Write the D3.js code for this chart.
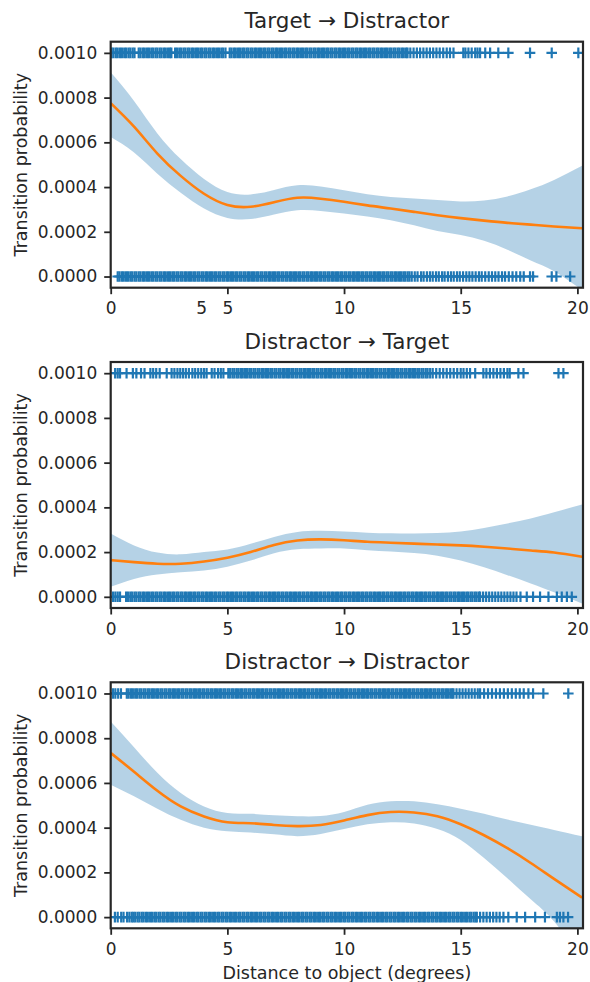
<!DOCTYPE html>
<html>
<head>
<meta charset="utf-8">
<script src="https://cdn.jsdelivr.net/npm/d3@7"></script>
<style>
body { margin: 0; background: #fff; }
text { font-family: 'DejaVu Sans', sans-serif; fill: #262626; }
</style>
</head>
<body>
<script>
// panel titles
const titles = ['Target \u2192 Distractor', 'Distractor \u2192 Target', 'Distractor \u2192 Distractor']

// x positions of the fitted curve / confidence band
const curveX = [0, 1, 2, 3, 4, 5, 6, 7, 8, 9, 10, 11, 12, 13, 14, 15, 16, 17, 18, 19, 20.2]

// Target -> Distractor
const mean1 = [0.000775, 0.00067, 0.00055, 0.00045, 0.00037, 0.00032, 0.000312, 0.000332, 0.000352, 0.000348, 0.000334, 0.000318, 0.000304, 0.000289, 0.000274, 0.000261, 0.00025, 0.00024, 0.000232, 0.000224, 0.000216]
const upper1 = [0.000913, 0.000785, 0.00064, 0.000525, 0.000436, 0.000378, 0.000367, 0.000387, 0.000408, 0.000403, 0.000386, 0.000368, 0.000356, 0.000349, 0.000342, 0.000336, 0.00034, 0.000358, 0.00039, 0.000432, 0.000495]
const lower1 = [0.000624, 0.000555, 0.00046, 0.000375, 0.000304, 0.000262, 0.000257, 0.000277, 0.000296, 0.000293, 0.000282, 0.000268, 0.000252, 0.000229, 0.000204, 0.000186, 0.00016, 0.00012, 0.000072, 0.000024, -0.00006]
const top1 = [0.04,0.12,0.22,0.3,0.4,0.48,0.58,0.66,0.76,0.84,0.94,1.02,
  1.2,1.28,1.38,1.46,1.56,1.64,1.74,1.82,1.92,2.0,2.1,2.18,2.28,2.36,2.46,2.54,2.6,
  2.76,2.84,2.94,3.02,3.12,3.2,3.3,3.38,3.48,3.56,3.66,3.74,3.84,3.92,4.02,4.1,4.2,4.28,4.38,4.46,4.56,4.64,4.74,4.82,4.92,
  5.1,5.18,5.28,5.36,5.46,5.54,5.64,5.72,5.82,5.9,6.0,6.08,6.18,6.26,6.36,6.44,6.54,6.62,6.72,6.8,6.9,6.98,7.08,7.16,7.26,7.34,7.44,7.52,7.62,7.7,7.8,7.88,7.98,8.06,8.16,8.24,8.34,8.42,8.52,8.6,8.7,8.78,8.88,8.96,9.06,9.14,9.24,9.32,9.42,9.5,9.6,9.68,9.78,9.86,9.96,10.04,10.14,10.22,10.32,10.4,10.5,10.58,10.68,10.76,10.86,10.94,11.04,11.12,11.22,11.3,11.4,11.48,11.58,11.66,11.76,11.84,11.94,12.02,12.12,12.2,12.3,12.38,12.48,12.56,12.66,12.72,
  12.84,12.98,13.12,13.26,13.4,13.54,13.68,13.82,13.96,14.1,14.25,14.4,14.54,14.69,15.11,15.2,15.33,15.47,15.62,15.72,15.83,16.05,16.26,16.61,17.04,17.97,18.9,20.04]
const bot1 = [0.3,0.38,0.48,0.56,0.66,0.74,0.84,0.92,1.02,1.1,1.2,1.28,1.38,1.46,1.56,1.64,1.74,1.82,1.92,2.0,2.1,2.18,2.28,2.36,2.46,2.54,2.64,2.72,2.82,2.9,3.0,3.08,3.18,3.26,3.36,3.44,3.54,3.62,3.72,3.8,3.9,3.98,4.08,4.16,4.26,4.34,4.44,4.52,4.62,4.7,4.8,4.88,4.98,5.06,5.16,5.24,5.34,5.42,5.52,5.6,5.7,5.78,5.88,5.96,6.06,6.14,6.24,6.32,6.42,6.5,6.6,6.68,6.78,6.86,6.96,7.04,7.14,7.22,7.32,7.4,7.5,7.58,7.68,7.76,7.86,7.94,8.04,8.12,8.22,8.3,8.4,8.48,8.58,8.66,8.76,8.84,8.94,9.02,9.12,9.2,9.3,9.38,9.48,9.56,9.66,9.74,9.84,9.92,10.02,10.1,10.2,10.28,10.38,10.46,10.56,10.64,10.74,10.82,10.92,11.0,11.1,11.18,11.28,11.36,11.46,11.54,11.64,11.72,11.82,11.9,12.0,12.08,12.18,12.26,12.36,12.44,12.54,12.62,12.72,12.8,
  12.9,13.03,13.15,13.3,13.41,13.55,13.68,13.8,13.94,14.06,14.2,14.31,14.45,14.58,14.7,14.84,14.96,15.1,15.24,15.37,15.5,15.64,15.78,15.9,16.05,16.2,16.34,16.48,16.62,16.77,16.9,17.06,17.22,17.38,17.55,17.7,17.97,18.1,18.9,19.1,19.69]

// Distractor -> Target
const mean2 = [0.000164, 0.000155, 0.000148, 0.000148, 0.000158, 0.000175, 0.0002, 0.000232, 0.000252, 0.000257, 0.000253, 0.000246, 0.000242, 0.000238, 0.000234, 0.00023, 0.000224, 0.000216, 0.000207, 0.000198, 0.000179]
const upper2 = [0.000283, 0.00023, 0.000198, 0.00019, 0.0002, 0.000212, 0.000237, 0.000268, 0.00029, 0.000295, 0.000292, 0.000287, 0.000284, 0.000283, 0.000285, 0.000292, 0.000308, 0.000328, 0.00035, 0.000378, 0.000413]
const lower2 = [0.000045, 0.00008, 0.0001, 0.00011, 0.000118, 0.000135, 0.000162, 0.000195, 0.000213, 0.000216, 0.000216, 0.000208, 0.000203, 0.000196, 0.000184, 0.000162, 0.000132, 0.000097, 0.00006, 0.00002, -0.00003]
const top2 = [0.19,0.3,0.4,0.68,0.95,1.1,1.3,1.45,1.7,1.82,1.95,2.1,2.4,
  2.61,2.73,2.86,2.98,3.1,3.22,3.35,3.5,3.62,3.75,3.88,4.0,4.11,4.33,4.45,4.6,4.72,4.83,
  5.04,5.12,5.22,5.3,5.4,5.48,5.58,5.66,5.76,5.84,5.94,6.02,6.12,6.2,6.3,6.38,6.48,6.56,6.66,6.74,6.84,6.92,7.02,7.1,7.2,7.28,7.38,7.46,7.56,7.64,7.74,7.82,7.92,8.0,8.1,8.18,8.28,8.36,8.46,8.54,8.64,8.72,8.82,8.9,9.0,9.08,9.18,9.26,9.36,9.44,9.54,9.62,9.72,9.8,9.9,9.98,10.08,10.16,10.26,10.34,10.44,10.52,10.62,10.7,10.8,10.88,10.98,11.06,11.16,11.24,11.34,11.42,11.52,11.6,11.7,11.78,11.88,11.96,12.06,12.14,12.24,12.32,12.42,12.5,12.6,12.68,12.78,12.86,12.96,13.04,13.14,13.22,13.32,13.4,13.5,13.58,13.69,
  13.8,13.95,14.1,14.25,14.4,14.55,14.7,14.85,15.0,15.12,15.26,15.4,15.62,15.97,16.1,16.25,16.4,16.55,16.7,16.85,17.0,17.1,17.47,17.69,19.19,19.4]
const bot2 = [0.1,0.2,0.3,0.4,
  0.66,0.74,0.84,0.92,1.02,1.1,1.2,1.28,1.38,1.46,1.56,1.64,1.74,1.82,1.92,2.0,2.1,2.18,2.28,2.36,2.46,2.54,2.64,2.72,2.82,2.9,3.0,3.08,3.18,3.26,3.36,3.44,3.54,3.62,3.72,3.8,3.9,3.98,4.08,4.16,4.26,4.34,4.44,4.52,4.62,4.7,4.8,4.88,4.98,5.06,5.16,5.24,5.34,5.42,5.52,5.6,5.7,5.78,5.88,5.96,6.06,6.14,6.24,6.32,6.42,6.5,6.6,6.68,6.78,6.86,6.96,7.04,7.14,7.22,7.32,7.4,7.5,7.58,7.68,7.76,7.86,7.94,8.04,8.12,8.22,8.3,8.4,8.48,8.58,8.66,8.76,8.84,8.94,9.02,9.12,9.2,9.3,9.38,9.48,9.56,9.66,9.74,9.84,9.92,10.02,10.1,10.2,10.28,10.38,10.46,10.56,10.64,10.74,10.82,10.92,11.0,11.1,11.18,11.28,11.36,11.46,11.54,11.64,11.72,11.82,11.9,12.0,12.08,12.18,12.26,12.36,12.44,12.54,12.62,12.72,12.8,12.9,12.98,13.08,13.16,13.26,13.34,13.44,13.52,13.62,13.7,13.8,13.88,13.98,14.06,14.16,14.24,14.34,14.42,14.52,14.6,14.7,14.78,14.88,14.96,15.06,15.14,15.24,15.32,15.42,15.5,15.6,15.68,15.78,15.83,
  15.96,16.09,16.22,16.35,16.48,16.61,16.74,16.87,17.0,17.13,17.26,17.39,17.56,17.83,18.1,18.4,18.76,19.12,19.33,19.55,19.76]

// Distractor -> Distractor
const mean3 = [0.000734, 0.00065, 0.000565, 0.000495, 0.00045, 0.000424, 0.00042, 0.000412, 0.000407, 0.000412, 0.000432, 0.000456, 0.00047, 0.000468, 0.000451, 0.000415, 0.000366, 0.000308, 0.000242, 0.000171, 0.000087]
const upper3 = [0.000875, 0.00076, 0.000645, 0.000555, 0.000495, 0.000466, 0.000462, 0.000455, 0.000451, 0.000452, 0.00047, 0.000502, 0.000518, 0.000518, 0.000505, 0.000485, 0.000462, 0.000436, 0.000413, 0.00039, 0.000362]
const lower3 = [0.000592, 0.00054, 0.000485, 0.000435, 0.0004, 0.000384, 0.000378, 0.00037, 0.000362, 0.000372, 0.000394, 0.000415, 0.000424, 0.000419, 0.000394, 0.000345, 0.000264, 0.000174, 0.00008, -0.00002, -0.00019]
const top3 = [0.1,0.2,0.32,0.44,
  0.69,0.77,0.87,0.95,1.05,1.13,1.23,1.31,1.41,1.49,1.59,1.67,1.77,1.85,1.95,2.03,2.13,2.21,2.31,2.39,2.49,2.57,2.67,2.75,2.85,2.93,3.03,3.11,3.21,3.29,3.39,3.47,3.57,3.65,3.75,3.83,3.93,4.01,4.11,4.19,4.29,4.37,4.47,4.55,4.65,4.73,4.83,4.91,5.01,5.09,5.19,5.27,5.37,5.45,5.55,5.63,5.73,5.81,5.91,5.99,6.09,6.17,6.27,6.35,6.45,6.53,6.63,6.71,6.81,6.89,6.99,7.07,7.17,7.25,7.35,7.43,7.53,7.61,7.71,7.79,7.89,7.97,8.07,8.15,8.25,8.33,8.43,8.51,8.61,8.69,8.79,8.87,8.97,9.05,9.15,9.23,9.33,9.41,9.51,9.59,9.69,9.77,9.87,9.95,10.05,10.13,10.23,10.31,10.41,10.49,10.59,10.67,10.77,10.85,10.95,11.03,11.13,11.21,11.31,11.39,11.49,11.57,11.67,11.75,11.85,11.93,12.03,12.11,12.21,12.29,12.39,12.47,12.57,12.65,12.75,12.83,12.93,13.01,13.11,13.19,13.29,13.37,13.47,13.55,13.65,13.73,13.83,13.91,14.01,14.09,14.19,14.27,14.37,14.45,14.55,14.63,14.69,
  14.82,14.95,15.08,15.21,15.34,15.47,15.6,15.73,15.83,16.0,16.17,16.34,16.51,16.68,16.85,17.02,17.19,17.36,17.53,17.7,17.9,18.1,18.54,19.61]
const bot3 = [0.18,0.3,0.45,0.55,0.7,0.8,0.9,
  0.97,1.05,1.15,1.23,1.33,1.41,1.51,1.59,1.69,1.77,1.87,1.95,2.05,2.13,2.23,2.31,2.41,2.49,2.59,2.67,2.77,2.85,2.95,3.03,3.13,3.21,3.31,3.39,3.49,3.57,3.67,3.75,3.85,3.93,4.03,4.11,4.21,4.29,4.39,4.47,4.57,4.65,4.75,4.83,4.93,5.01,5.11,5.19,5.29,5.37,5.47,5.55,5.65,5.73,5.83,5.91,6.01,6.09,6.19,6.27,6.37,6.45,6.55,6.63,6.73,6.81,6.91,6.99,7.09,7.17,7.27,7.35,7.45,7.53,7.63,7.71,7.81,7.89,7.99,8.07,8.17,8.25,8.35,8.43,8.53,8.61,8.71,8.79,8.89,8.97,9.07,9.15,9.25,9.33,9.43,9.51,9.61,9.69,9.79,9.87,9.97,10.05,10.15,10.23,10.33,10.41,10.51,10.59,10.69,10.77,10.87,10.95,11.05,11.13,11.23,11.31,11.41,11.49,11.59,11.67,11.77,11.85,11.95,12.03,12.13,12.21,12.31,12.39,12.49,12.57,12.67,12.75,12.85,12.93,13.03,13.11,13.21,13.29,13.39,13.47,13.57,13.65,13.75,13.83,13.93,14.01,14.11,14.19,14.29,14.37,14.47,14.55,14.65,14.73,14.83,14.91,15.01,15.09,15.19,15.27,15.37,15.45,15.55,15.63,15.69,
  15.83,15.97,16.11,16.25,16.39,16.53,16.67,16.83,17.04,17.4,17.76,18.19,18.61,19.12,19.25,19.4,19.6]

// axis ticks
const xTicks = [0, 5, 10, 15, 20]
const yTicks = [0, 0.0002, 0.0004, 0.0006, 0.0008, 0.001]
// stray "5" label in the first panel
const strayX = [3.9]
const strayText = ['5']

const panels = [
  { title: titles[0], mean: mean1, upper: upper1, lower: lower1, top: top1, bot: bot1 },
  { title: titles[1], mean: mean2, upper: upper2, lower: lower2, top: top2, bot: bot2 },
  { title: titles[2], mean: mean3, upper: upper3, lower: lower3, top: top3, bot: bot3 }
]

const panelTops = [41.7, 362, 682.3]
const panelH = 246
const left = 110.7, right = 583
const blue = '#1f77b4', orange = '#ff7f0e', ink = '#262626'

const svg = d3.select('body').append('svg').attr('width', 590).attr('height', 982)

const x = d3.scaleLinear().domain([0, 20.24]).range([left, right])

function drawPanel(p, i) {
  const t = panelTops[i]
  const y = d3.scaleLinear().domain([-0.00005, 0.00105]).range([t + panelH, t])
  const g = svg.append('g')

  g.append('clipPath').attr('id', 'clip' + i)
    .append('rect').attr('x', left).attr('y', t).attr('width', right - left).attr('height', panelH)

  const plot = g.append('g').attr('clip-path', 'url(#clip' + i + ')')

  const plus = 'M-5.3,0H5.3M0,-5.3V5.3'
  const pts = p.top.map(v => [v, 0.001]).concat(p.bot.map(v => [v, 0]))
  plot.selectAll('path.pt').data(pts).enter().append('path')
    .attr('class', 'pt')
    .attr('d', plus)
    .attr('transform', d => 'translate(' + x(d[0]) + ',' + y(d[1]) + ')')
    .attr('stroke', blue)
    .attr('stroke-width', 2.2)

  const band = d3.area()
    .x((d, k) => x(curveX[k]))
    .y0((d, k) => y(p.lower[k]))
    .y1((d, k) => y(p.upper[k]))
    .curve(d3.curveNatural)
  plot.append('path').datum(p.mean).attr('d', band)
    .attr('fill', blue).attr('fill-opacity', 0.33)

  const line = d3.line()
    .x((d, k) => x(curveX[k]))
    .y(d => y(d))
    .curve(d3.curveNatural)
  plot.append('path').datum(p.mean).attr('d', line)
    .attr('fill', 'none').attr('stroke', orange).attr('stroke-width', 2.6)

  const yAxis = g.append('g').attr('transform', 'translate(' + left + ',0)')
    .call(d3.axisLeft(y).tickValues(yTicks).tickFormat(d3.format('.4f')).tickSize(6.5).tickPadding(7))
  const xAxis = g.append('g').attr('transform', 'translate(0,' + (t + panelH) + ')')
    .call(d3.axisBottom(x).tickValues(xTicks).tickFormat(d3.format('d')).tickSize(6.5).tickPadding(8))
  ;[yAxis, xAxis].forEach(a => {
    a.select('.domain').remove()
    a.selectAll('line').attr('stroke', ink).attr('stroke-width', 1.8)
    a.selectAll('text').attr('fill', ink).style('font-size', '17px').style('font-family', 'DejaVu Sans')
  })

  if (i === 0) {
    xAxis.selectAll('text.stray').data(strayX).enter().append('text')
      .attr('class', 'stray')
      .attr('x', d => x(d))
      .attr('y', 14.5)
      .attr('dy', '0.71em')
      .attr('text-anchor', 'middle')
      .style('font-size', '17px')
      .text((d, k) => strayText[k])
  }

  g.append('rect')
    .attr('x', left).attr('y', t).attr('width', right - left).attr('height', panelH)
    .attr('fill', 'none').attr('stroke', ink).attr('stroke-width', 2.2)

  g.append('text')
    .attr('x', (left + right) / 2).attr('y', t - 13.4)
    .attr('text-anchor', 'middle')
    .style('font-size', '21.5px')
    .text(p.title)

  g.append('text')
    .attr('transform', 'translate(26.5,' + (t + panelH / 2) + ') rotate(-90)')
    .attr('text-anchor', 'middle')
    .style('font-size', '17.5px')
    .text('Transition probability')
}

panels.forEach(drawPanel)

svg.append('text')
  .attr('x', (left + right) / 2).attr('y', 979)
  .attr('text-anchor', 'middle')
  .style('font-size', '17.5px')
  .text('Distance to object (degrees)')
</script>
</body>
</html>
